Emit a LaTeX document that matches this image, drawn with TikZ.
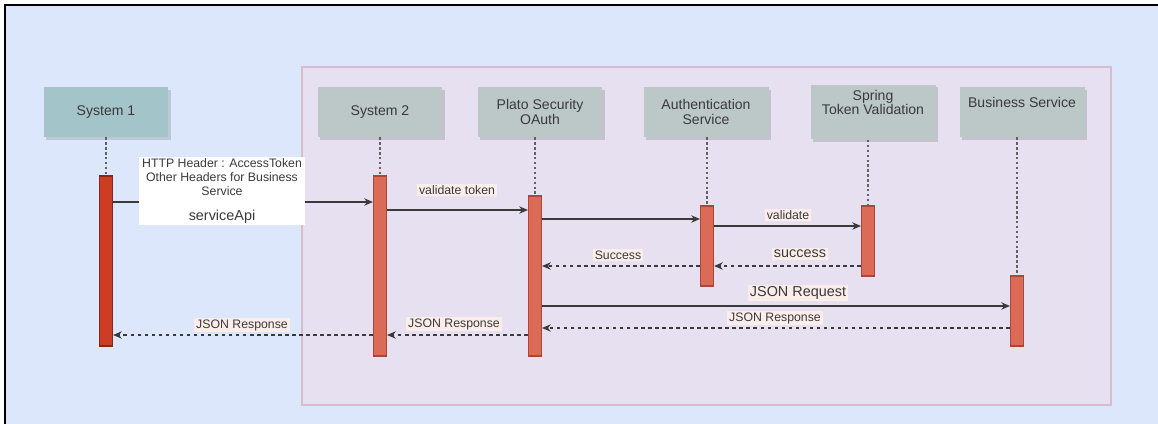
\documentclass[tikz,border=0pt]{standalone}
\usepackage{fontspec}
\setmainfont{Liberation Sans}
\usetikzlibrary{arrows.meta,shadows}
\definecolor{bgblue}{HTML}{DDE7FC}
\definecolor{grpfill}{HTML}{E6E0F0}
\definecolor{grpline}{HTML}{D9BCCB}
\definecolor{headgray}{HTML}{BCC8C8}
\definecolor{headteal}{HTML}{A3C4C8}
\definecolor{barred}{HTML}{DB6A57}
\definecolor{barline}{HTML}{A8463A}
\definecolor{darkbar}{HTML}{CB3E23}
\definecolor{darkline}{HTML}{8A2614}
\definecolor{lblbg}{HTML}{FBEEEA}
\definecolor{ink}{HTML}{3A3A3A}
\begin{document}
\begin{tikzpicture}[x={(0.02cm,0)},y={(0,-0.02cm)},
  head/.style={rectangle,fill=headgray,minimum width=2.5cm,minimum height=1cm,align=center,
    text=ink,font=\fontsize{8}{8}\selectfont,
    drop shadow={shadow xshift=1.5pt,shadow yshift=-1.5pt,opacity=.25,fill=black!60}},
  headup/.style={head,text depth=0.38cm},
  bar/.style={rectangle,draw=barline,fill=barred,line width=0.6pt,minimum width=0.26cm,inner sep=0pt},
  life/.style={ink!80,line width=0.7pt,dash pattern=on 1.4pt off 1.4pt},
  msg/.style={ink,line width=0.7pt,-{Stealth[length=5pt,width=4.2pt,inset=1.6pt]}},
  reply/.style={msg,dash pattern=on 2pt off 2pt},
  lbl/.style={fill=lblbg,text=ink,inner sep=1pt,font=\fontsize{7}{8}\selectfont},
  biglbl/.style={lbl,font=\fontsize{8.2}{9.4}\selectfont}]
  \clip (0,0) rectangle (1158,423);
  \fill[white] (0,0) rectangle (1158,423);
  % frame and group
  \draw[fill=bgblue,line width=1.2pt] (5,5) rectangle (1200,460);
  \draw[fill=grpfill,draw=grpline,line width=0.6pt] (302,67) rectangle (1111,405);

  % participants
  \node[head,fill=headteal] (sys1) at (106,112) {System 1};
  \node[head] (sys2) at (380,112) {System 2};
  \node[head] (plato) at (540,112) {Plato Security\\OAuth};
  \node[head] (auth) at (706,112) {Authentication\\Service};
  \node[headup] (spring) at (873,112) {Spring\\Token Validation};
  \node[headup] (biz) at (1022,112) {Business Service};

  % activation bars
  \node[bar,fill=darkbar,draw=darkline,minimum height=3.4cm] (bar1) at (106,261) {};
  \node[bar,minimum height=3.6cm] (bar2) at (380,266) {};
  \node[bar,minimum height=3.2cm] (bar3) at (535,276) {};
  \node[bar,minimum height=1.6cm] (bar4) at (707,246) {};
  \node[bar,minimum height=1.4cm] (bar5) at (868,241) {};
  \node[bar,minimum height=1.4cm] (bar6) at (1017,311) {};

  % lifelines
  \draw[life] (sys1.south -| bar1) -- (bar1.north);
  \draw[life] (sys2.south -| bar2) -- (bar2.north);
  \draw[life] (plato.south -| bar3) -- (bar3.north);
  \draw[life] (auth.south -| bar4) -- (bar4.north);
  \draw[life] (spring.south -| bar5) -- (bar5.north);
  \draw[life] (biz.south -| bar6) -- (bar6.north);

  % messages
  \draw[msg] (bar1.east |- 0,202) -- (bar2.west |- 0,202);
  \node[fill=white,text=ink,align=center,minimum width=3.34cm,minimum height=1.32cm,inner sep=1pt,
    font=\fontsize{7}{7.9}\selectfont] (hdr) at (222,191)
    {HTTP Header : AccessToken\\Other Headers for Business\\Service\\[6pt]{\fontsize{8.2}{9.4}\selectfont serviceApi}};
  \draw[msg] (bar2.east |- 0,210) -- (bar3.west |- 0,210);
  \node[lbl] (l2) at (457,190) {validate token};
  \draw[msg] (bar3.east |- 0,219) -- (bar4.west |- 0,219);
  \draw[msg] (bar4.east |- 0,226) -- (bar5.west |- 0,226);
  \node[lbl] (l4) at (788,215) {validate};
  \draw[reply] (bar5.west |- 0,266) -- (bar4.east |- 0,266);
  \node[biglbl] (l5) at (800,254) {success};
  \draw[reply] (bar4.west |- 0,266) -- (bar3.east |- 0,266);
  \node[lbl] (l6) at (618,255) {Success};
  \draw[msg] (bar3.east |- 0,306) -- (bar6.west |- 0,306);
  \node[biglbl] (l7) at (798,293) {JSON Request};
  \draw[reply] (bar6.west |- 0,328) -- (bar3.east |- 0,328);
  \node[lbl] (l8) at (775,318) {JSON Response};
  \draw[reply] (bar3.west |- 0,335) -- (bar2.east |- 0,335);
  \node[lbl] (l9) at (454,324) {JSON Response};
  \draw[reply] (bar2.west |- 0,335) -- (bar1.east |- 0,335);
  \node[lbl] (l10) at (242,325) {JSON Response};
\end{tikzpicture}
\end{document}
